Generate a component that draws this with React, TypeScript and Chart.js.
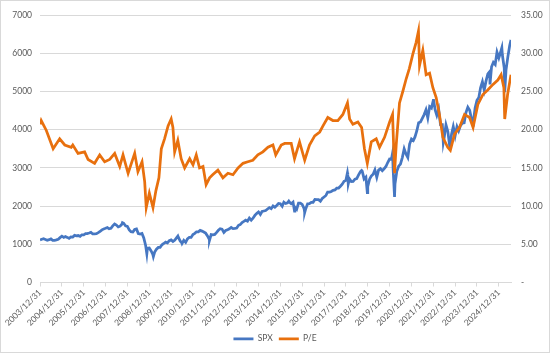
import React, { useEffect, useRef } from "react";
import { Chart, registerables } from "chart.js";
Chart.register(...registerables);

const yearLabels = [
  "2003/12/31", "2004/12/31", "2005/12/31", "2006/12/31", "2007/12/31", "2008/12/31",
  "2009/12/31", "2010/12/31", "2011/12/31", "2012/12/31", "2013/12/31", "2014/12/31",
  "2015/12/31", "2016/12/31", "2017/12/31", "2018/12/31", "2019/12/31", "2020/12/31",
  "2021/12/31", "2022/12/31", "2023/12/31", "2024/12/31",
];

// SPX month-end closes, starting 2003-12
const spxMonthly = [
  1112,
  1131, 1145, 1126, 1107, 1121, 1141, 1102, 1104, 1115, 1130, 1174, 1212,
  1181, 1204, 1181, 1157, 1192, 1191, 1234, 1220, 1229, 1207, 1249, 1248,
  1280, 1281, 1295, 1311, 1270, 1270, 1277, 1304, 1336, 1378, 1401, 1418,
  1438, 1407, 1421, 1482, 1531, 1503, 1455, 1474, 1527, 1549, 1481, 1468,
  1379, 1331, 1323, 1386, 1400, 1280, 1267, 1283, 1166, 969, 896, 903,
  826, 735, 798, 873, 919, 919, 987, 1021, 1057, 1036, 1096, 1115,
  1074, 1104, 1169, 1187, 1089, 1031, 1102, 1049, 1141, 1183, 1181, 1258,
  1286, 1327, 1326, 1364, 1345, 1321, 1292, 1219, 1131, 1253, 1247, 1258,
  1312, 1366, 1408, 1398, 1310, 1362, 1379, 1407, 1441, 1412, 1416, 1426,
  1498, 1515, 1569, 1598, 1631, 1606, 1686, 1633, 1682, 1757, 1806, 1848,
  1783, 1859, 1872, 1884, 1924, 1960, 1931, 2003, 1972, 2018, 2068, 2059,
  1995, 2105, 2068, 2086, 2107, 2063, 2104, 1972, 1920, 2079, 2080, 2044,
  1940, 1932, 2060, 2065, 2097, 2099, 2174, 2171, 2168, 2126, 2199, 2239,
  2279, 2364, 2363, 2384, 2412, 2423, 2470, 2472, 2519, 2575, 2648, 2674,
  2824, 2714, 2641, 2648, 2705, 2718, 2816, 2902, 2914, 2712, 2760, 2507,
  2704, 2784, 2834, 2946, 2752, 2942, 2980, 2926, 2977, 3038, 3141, 3231,
  3226, 2954, 2585, 2912, 3044, 3100, 3271, 3500, 3363, 3270, 3622, 3756,
  3714, 3811, 3973, 4181, 4204, 4298, 4395, 4523, 4308, 4605, 4567, 4766,
  4516, 4374, 4530, 4132, 4132, 3785, 4130, 3955, 3586, 3872, 4080, 3840,
  4077, 3970, 4109, 4169, 4180, 4450, 4589, 4508, 4288, 4194, 4568, 4770,
  4846, 5096, 5254, 5036, 5278, 5460, 5522, 5648, 5762, 5705, 6032, 5882,
  6041, 5955, 5612, 5569, 5912, 6205,
];

// intra-month SPX extremes
const spxExtraDates = [
  "2007-10-09", "2008-11-20", "2009-03-09", "2010-04-23", "2010-07-02", "2011-10-03",
  "2015-05-21", "2015-08-25", "2016-02-11", "2018-01-26", "2018-02-08", "2018-09-20",
  "2018-12-24", "2020-02-19", "2020-03-23", "2022-01-03", "2022-06-16", "2022-10-12",
  "2023-10-27", "2024-08-05", "2025-02-19", "2025-04-08", "2025-07-22",
];
const spxExtraValues = [
  1565, 752, 677, 1217, 1022, 1099,
  2131, 1868, 1829, 2873, 2581, 2931,
  2351, 3386, 2237, 4797, 3667, 3577,
  4117, 5186, 6144, 4982, 6350,
];

const peDates = [
  "2004-01-01", "2004-01-20", "2004-04-15", "2004-08-07", "2004-11-24", "2005-02-17",
  "2005-06-05", "2005-07-01", "2005-09-27", "2006-01-15", "2006-03-14", "2006-07-01",
  "2006-09-24", "2006-12-16", "2007-03-10", "2007-06-02", "2007-08-25", "2007-10-19",
  "2008-01-12", "2008-05-01", "2008-06-24", "2008-09-01", "2008-10-15", "2008-11-10",
  "2009-01-01", "2009-03-03", "2009-04-20", "2009-06-10", "2009-07-20", "2009-09-12",
  "2009-11-10", "2010-01-01", "2010-01-30", "2010-02-28", "2010-04-22", "2010-06-17",
  "2010-08-14", "2010-11-06", "2011-01-01", "2011-02-24", "2011-04-20", "2011-06-17",
  "2011-08-08", "2011-10-05", "2011-11-25", "2012-02-21", "2012-05-15", "2012-08-07",
  "2012-10-30", "2013-01-23", "2013-04-16", "2013-07-05", "2013-09-27", "2013-12-20",
  "2014-03-14", "2014-06-07", "2014-08-29", "2014-10-15", "2015-01-15", "2015-03-14",
  "2015-07-01", "2015-08-25", "2015-11-17", "2016-02-11", "2016-05-01", "2016-07-27",
  "2016-10-19", "2016-12-13", "2017-03-03", "2017-05-27", "2017-08-18", "2017-11-10",
  "2018-01-26", "2018-03-03", "2018-04-27", "2018-07-19", "2018-09-20", "2018-11-06",
  "2018-12-24", "2019-02-28", "2019-05-22", "2019-07-16", "2019-10-08", "2020-01-01",
  "2020-02-19", "2020-03-23", "2020-04-20", "2020-06-14", "2020-08-08", "2020-10-05",
  "2020-11-25", "2021-01-23", "2021-03-18", "2021-04-27", "2021-05-15", "2021-07-09",
  "2021-09-02", "2021-10-30", "2021-12-24", "2022-02-17", "2022-04-12", "2022-06-09",
  "2022-08-29", "2022-10-12", "2022-12-20", "2023-03-14", "2023-06-06", "2023-08-29",
  "2023-10-27", "2024-01-15", "2024-04-08", "2024-06-28", "2024-09-20", "2024-12-14",
  "2025-02-07", "2025-03-25", "2025-04-08", "2025-05-26", "2025-07-22",
];
const peValues = [
  20.7, 21.2, 19.9, 17.5, 18.8, 18.0,
  17.7, 18.0, 16.9, 17.1, 16.1, 15.6,
  16.7, 15.8, 16.1, 16.9, 15.2, 16.7,
  14.3, 16.9, 14.5, 15.8, 13.2, 9.8,
  11.7, 9.8, 12.0, 13.7, 17.5, 18.8,
  20.5, 21.4, 20.3, 17.1, 18.6, 16.2,
  15.0, 16.2, 15.4, 16.7, 15.0, 15.2,
  12.8, 13.7, 14.1, 14.7, 13.7, 14.3,
  14.1, 15.0, 15.6, 15.8, 16.0, 16.7,
  17.1, 17.7, 18.0, 16.7, 18.0, 18.2,
  18.2, 16.2, 18.4, 16.0, 18.0, 19.2,
  19.7, 20.5, 21.6, 21.2, 21.2, 22.0,
  23.5, 21.4, 20.7, 21.0, 20.3, 17.5,
  15.6, 18.4, 18.8, 17.7, 19.0, 21.0,
  22.0, 14.3, 18.0, 23.5, 25.0, 26.7,
  28.0, 29.9, 31.4, 32.9, 28.4, 30.4,
  27.2, 27.4, 25.5, 24.2, 22.0, 19.0,
  17.7, 17.3, 19.4, 20.3, 22.0, 21.6,
  20.3, 23.3, 24.6, 25.2, 25.9, 26.5,
  27.2, 25.5, 21.4, 24.6, 27.2,
];

const BASE = Date.UTC(2003, 11, 31);
const YEAR_MS = 365.25 * 86400000;
const toT = (s: string) => {
  const [y, m, d] = s.split("-").map(Number);
  return (Date.UTC(y, m - 1, d) - BASE) / YEAR_MS;
};

const spxPoints = [
  ...spxMonthly.map((v, i) => ({ x: (Date.UTC(2003, 12 + i, 0) - BASE) / YEAR_MS, y: v })),
  ...spxExtraDates.map((d, i) => ({ x: toT(d), y: spxExtraValues[i] })),
].sort((a, b) => a.x - b.x);
const pePoints = peDates.map((d, i) => ({ x: toT(d), y: peValues[i] }));
const xMax = Math.max(spxPoints[spxPoints.length - 1].x, pePoints[pePoints.length - 1].x);

const FONT = { family: "Lato, 'Open Sans', sans-serif", size: 8.5 };
const TXT = "#595959";
const GRID = "#D9D9D9";

const framePlugin = {
  id: "frame",
  beforeDraw(chart: any) {
    const c = chart.ctx;
    c.save();
    c.fillStyle = "#ffffff";
    c.fillRect(0, 0, chart.width, chart.height);
    c.restore();
  },
  afterDraw(chart: any) {
    const c = chart.ctx;
    c.save();
    c.strokeStyle = GRID;
    c.lineWidth = 1;
    c.strokeRect(0.5, 0.5, chart.width - 1, chart.height - 1);
    c.restore();
  },
};

export default function App() {
  const ref = useRef<HTMLCanvasElement>(null);
  useEffect(() => {
    document.body.style.margin = "0";
    const chart = new Chart(ref.current!, {
      type: "line",
      data: {
        datasets: [
          {
            label: "SPX",
            data: spxPoints,
            borderColor: "#4677C2",
            backgroundColor: "#4677C2",
            borderWidth: 2.75,
            pointRadius: 0,
            yAxisID: "y",
            order: 1,
          },
          {
            label: "P/E",
            data: pePoints,
            borderColor: "#E8700E",
            backgroundColor: "#E8700E",
            borderWidth: 2.75,
            pointRadius: 0,
            yAxisID: "y1",
            order: 0,
          },
        ],
      },
      options: {
        responsive: false,
        animation: false,
        layout: { padding: { top: 11, left: 0, right: 0, bottom: 0 } },
        plugins: {
          legend: {
            position: "bottom",
            labels: {
              usePointStyle: true,
              pointStyle: "line",
              pointStyleWidth: 20,
              padding: 6,
              color: TXT,
              font: FONT,
              sort: (a: any, b: any) => a.datasetIndex - b.datasetIndex,
            },
          },
          tooltip: { enabled: false },
        },
        scales: {
          x: {
            type: "linear",
            min: 0,
            max: xMax,
            afterBuildTicks: (scale: any) => {
              scale.ticks = yearLabels.map((_, i) => ({ value: i }));
            },
            afterFit: (scale: any) => {
              scale.height = 46;
            },
            ticks: {
              autoSkip: false,
              maxRotation: 45,
              minRotation: 45,
              color: TXT,
              font: FONT,
              padding: 1,
              callback: (v: any) => yearLabels[v] ?? "",
            },
            grid: { display: true, drawOnChartArea: false, drawTicks: true, tickLength: 4, color: GRID },
            border: { display: true, color: GRID },
          },
          y: {
            position: "left",
            min: 0,
            max: 7000,
            afterFit: (scale: any) => {
              scale.width = 40;
            },
            ticks: { stepSize: 1000, color: TXT, font: FONT, padding: 8, callback: (v: any) => String(v) },
            grid: { color: GRID, drawTicks: false },
            border: { display: false },
          },
          y1: {
            position: "right",
            min: 0,
            max: 35,
            afterFit: (scale: any) => {
              scale.width = 39;
            },
            ticks: {
              stepSize: 5,
              color: TXT,
              font: FONT,
              padding: 10,
              callback: (v: any) => (v === 0 ? "-" : Number(v).toFixed(2)),
            },
            grid: { display: false, drawTicks: false },
            border: { display: false },
          },
        },
      },
      plugins: [framePlugin],
    });
    return () => chart.destroy();
  }, []);
  return (
    <div style={{ width: 550, height: 353 }}>
      <canvas ref={ref} width={550} height={353} style={{ display: "block" }} />
    </div>
  );
}
